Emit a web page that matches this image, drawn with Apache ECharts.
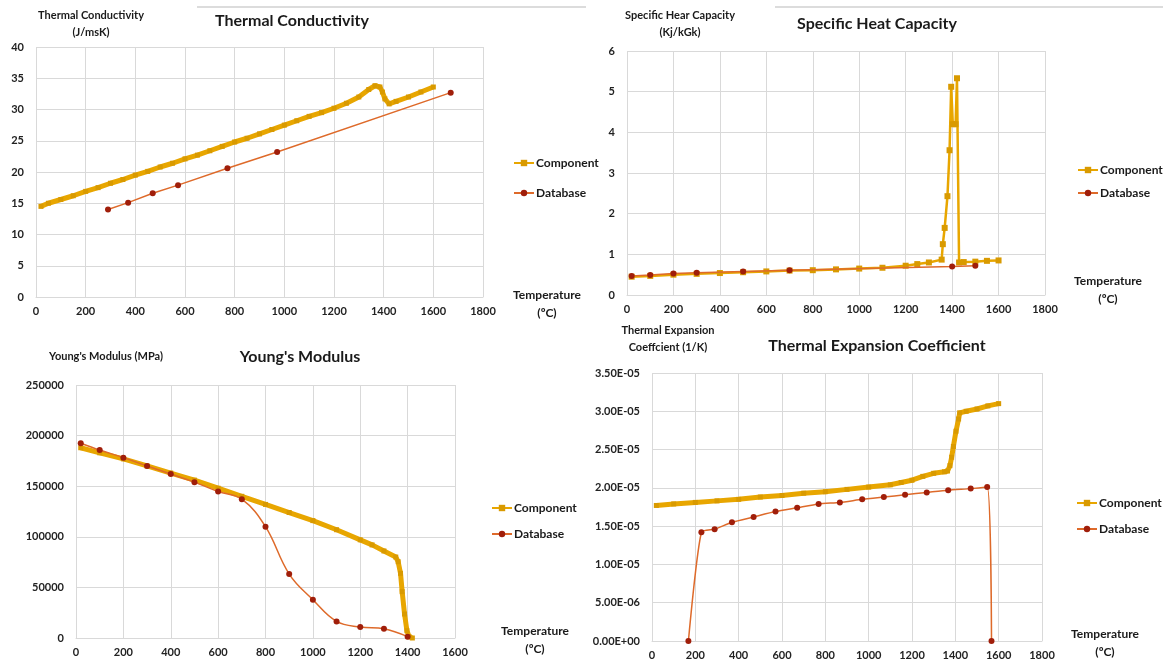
<!DOCTYPE html>
<html>
<head>
<meta charset="utf-8">
<script src="https://cdn.jsdelivr.net/npm/echarts@6/dist/echarts.min.js"></script>
<style>
html,body{margin:0;padding:0;background:#fff}
#chart{width:1163px;height:671px}
</style>
</head>
<body>
<div id="chart"></div>
<script>
// Thermal conductivity (J/msK)
const tcCompTemp = [20,50,100,150,200,250,300,350,400,450,500,550,600,650,700,750,800,850,900,950,1000,1050,1100,1150,1200,1250,1300,1340,1365,1385,1395,1405,1422,1450,1500,1550,1600];
const tcCompVal = [14.5,15.0,15.6,16.2,16.9,17.5,18.2,18.8,19.5,20.1,20.8,21.4,22.1,22.7,23.4,24.1,24.8,25.4,26.1,26.8,27.5,28.2,28.9,29.5,30.2,31.0,32.0,33.2,33.8,33.6,32.8,31.7,30.9,31.3,32.0,32.8,33.6];
const tcDbTemp = [290,371,470,572,771,971,1670];
const tcDbVal = [14.0,15.1,16.6,17.9,20.6,23.2,32.7];

// Specific heat capacity (Kj/kGk)
const shCompTemp = [20,100,200,300,400,500,600,700,800,900,1000,1100,1200,1250,1300,1355,1360,1368,1380,1389,1396,1403,1415,1421,1430,1450,1500,1550,1600];
const shCompVal = [0.45,0.47,0.50,0.52,0.54,0.56,0.58,0.60,0.61,0.63,0.65,0.67,0.72,0.76,0.80,0.87,1.25,1.65,2.43,3.56,5.12,4.20,4.20,5.33,0.80,0.81,0.82,0.84,0.85];
const shDbTemp = [20,100,200,300,500,700,1400,1500];
const shDbVal = [0.47,0.49,0.53,0.55,0.58,0.61,0.70,0.72];

// Young's modulus (MPa)
const ymCompTemp = [20,100,200,300,400,500,600,700,800,900,1000,1100,1200,1250,1300,1350,1360,1370,1377,1387,1397,1406,1420];
const ymCompVal = [188000,183000,177000,170000,163000,156000,148000,140000,132000,124000,116000,107000,97000,92000,86000,80000,75400,63900,45800,23700,7200,1300,0];
const ymDbTemp = [20,100,200,300,400,500,600,700,800,900,1000,1100,1200,1300,1400];
const ymDbVal = [192500,185800,178200,170000,162000,154000,144700,137200,110000,63200,37800,16400,10900,9200,1300];

// Thermal expansion coefficient (1/K)
const teCompTemp = [20,100,200,300,400,500,600,700,800,900,1000,1100,1150,1200,1250,1300,1350,1364,1375,1383,1391,1403,1415,1420,1450,1500,1550,1600];
const teCompVal = [1.77e-5,1.79e-5,1.81e-5,1.83e-5,1.85e-5,1.88e-5,1.90e-5,1.93e-5,1.95e-5,1.98e-5,2.01e-5,2.04e-5,2.07e-5,2.10e-5,2.15e-5,2.19e-5,2.21e-5,2.22e-5,2.29e-5,2.40e-5,2.54e-5,2.74e-5,2.90e-5,2.98e-5,3.00e-5,3.03e-5,3.07e-5,3.10e-5];
const teDbTemp = [168,228,289,369,469,570,670,769,867,970,1070,1168,1268,1367,1471,1547,1567];
const teDbVal = [0,1.42e-5,1.46e-5,1.55e-5,1.62e-5,1.69e-5,1.74e-5,1.79e-5,1.81e-5,1.85e-5,1.88e-5,1.91e-5,1.94e-5,1.97e-5,1.99e-5,2.01e-5,0];

const FONT = 'Lato';
const compLine = '#E8A600', compDot = '#D99A00';
const dbLine = '#DE6A2A', dbDot = '#A01E0A';
const gridColor = '#D9D9D9';

function zip(xs, ys) {
    return xs.map(function (x, i) { return [x, ys[i]]; });
}

function plainLabel(v) {
    return String(v);
}

// excel style 3.50E-05
function sciLabel(v) {
    if (v === 0) return '0.00E+00';
    let parts = v.toExponential(2).split('e');
    let exp = parseInt(parts[1], 10);
    let sign = exp < 0 ? '-' : '+';
    let abs = Math.abs(exp);
    return parts[0] + 'E' + sign + (abs < 10 ? '0' + abs : abs);
}

const labelStyle = {color: '#222', fontFamily: FONT, fontWeight: 'bold', fontSize: 11};

function xAxisOf(gridIndex, max) {
    return {
        type: 'value', gridIndex: gridIndex, min: 0, max: max, interval: 200,
        axisLine: {show: true, lineStyle: {color: gridColor}},
        axisTick: {show: false},
        axisLabel: Object.assign({margin: 9, formatter: plainLabel}, labelStyle),
        splitLine: {show: true, lineStyle: {color: gridColor}}
    };
}

function yAxisOf(gridIndex, max, interval, formatter) {
    return {
        type: 'value', gridIndex: gridIndex, min: 0, max: max, interval: interval,
        axisLine: {show: false},
        axisTick: {show: false},
        axisLabel: Object.assign({margin: 12, formatter: formatter || plainLabel}, labelStyle),
        splitLine: {show: true, lineStyle: {color: gridColor}}
    };
}

function compSeries(idx, data, width, size) {
    return {
        name: 'Component', type: 'line', xAxisIndex: idx, yAxisIndex: idx,
        data: data, symbol: 'rect', symbolSize: size, showSymbol: true,
        lineStyle: {color: compLine, width: width},
        itemStyle: {color: compDot},
        z: 2
    };
}

function dbSeries(idx, data, smooth) {
    return {
        name: 'Database', type: 'line', xAxisIndex: idx, yAxisIndex: idx,
        data: data, symbol: 'circle', symbolSize: 6, smooth: smooth,
        lineStyle: {color: dbLine, width: 1.5},
        itemStyle: {color: dbDot},
        z: 3
    };
}

function legendAt(left, top, gap) {
    return {
        left: left, top: top, orient: 'vertical', itemGap: gap,
        itemWidth: 20, itemHeight: 8,
        data: ['Component', 'Database'],
        lineStyle: {width: 2},
        textStyle: {color: '#1a1a1a', fontFamily: FONT, fontWeight: 'bold', fontSize: 12, padding: [0, 0, 0, -3]}
    };
}

function txt(x, y, text, size) {
    return {
        type: 'text', x: x, y: y, silent: true,
        style: {
            text: text, x: 0, y: 0, align: 'center', verticalAlign: 'middle',
            fill: '#1a1a1a', fontFamily: FONT, fontWeight: 'bold', fontSize: size, lineHeight: size + 6
        }
    };
}

const chart = echarts.init(document.getElementById('chart'));

const option = {
    backgroundColor: '#fff',
    animation: false,
    grid: [
        {left: 36, top: 47, width: 447, height: 250},
        {left: 627, top: 51, width: 418, height: 244},
        {left: 76, top: 385, width: 379, height: 253},
        {left: 652, top: 373, width: 390, height: 268}
    ],
    xAxis: [
        xAxisOf(0, 1800),
        xAxisOf(1, 1800),
        xAxisOf(2, 1600),
        xAxisOf(3, 1800)
    ],
    yAxis: [
        yAxisOf(0, 40, 5),
        yAxisOf(1, 6, 1),
        yAxisOf(2, 250000, 50000),
        yAxisOf(3, 3.5e-5, 0.5e-5, sciLabel)
    ],
    legend: [
        legendAt(508, 152, 18),
        legendAt(1072, 159, 11),
        legendAt(486, 497, 14),
        legendAt(1071, 492, 14)
    ],
    series: [
        compSeries(0, zip(tcCompTemp, tcCompVal), 5, 5),
        dbSeries(0, zip(tcDbTemp, tcDbVal), false),
        compSeries(1, zip(shCompTemp, shCompVal), 2.5, 6),
        dbSeries(1, zip(shDbTemp, shDbVal), false),
        compSeries(2, zip(ymCompTemp, ymCompVal), 5, 5),
        dbSeries(2, zip(ymDbTemp, ymDbVal), 0.4),
        compSeries(3, zip(teCompTemp, teCompVal), 5, 5),
        dbSeries(3, zip(teDbTemp, teDbVal), 0.2)
    ],
    graphic: [
        {type: 'line', silent: true, shape: {x1: 197, y1: 7, x2: 586, y2: 7}, style: {stroke: '#dcdcdc', lineWidth: 2}},
        {type: 'line', silent: true, shape: {x1: 775, y1: 7, x2: 1163, y2: 7}, style: {stroke: '#dcdcdc', lineWidth: 2}},
        txt(292, 21, 'Thermal Conductivity', 16),
        txt(877, 24, 'Specific Heat Capacity', 16),
        txt(300, 357, "Young's Modulus", 16),
        txt(877, 346, 'Thermal Expansion Coefficient', 16),
        txt(91, 24, 'Thermal Conductivity\n(J/msK)', 11),
        txt(680, 24, 'Specific Hear Capacity\n(Kj/kGk)', 11),
        txt(106, 356, "Young's Modulus (MPa)", 11),
        txt(668, 339, 'Thermal Expansion\nCoeffcient (1/K)', 11),
        txt(547, 304, 'Temperature\n(ºC)', 12),
        txt(1108, 290, 'Temperature\n(ºC)', 12),
        txt(535, 640, 'Temperature\n(ºC)', 12),
        txt(1105, 643, 'Temperature\n(ºC)', 12)
    ]
};

chart.setOption(option);
</script>
</body>
</html>
